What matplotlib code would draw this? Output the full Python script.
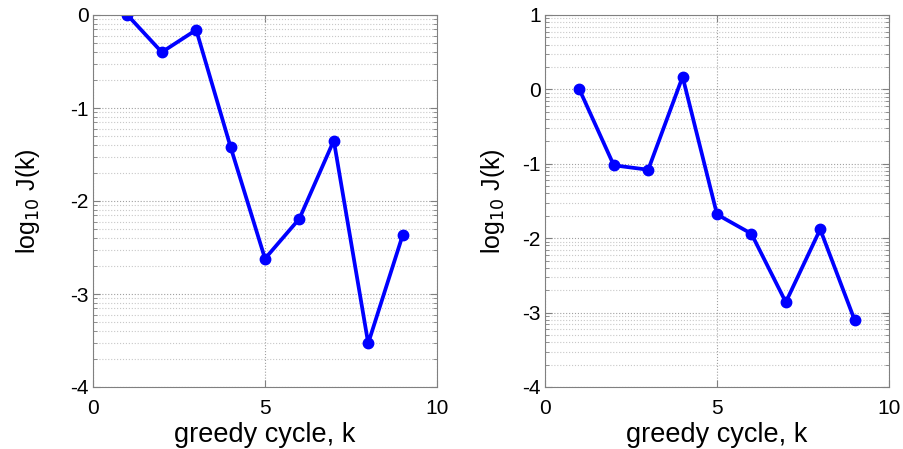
import numpy as np
import matplotlib
matplotlib.use('Agg')
from matplotlib import pyplot as plt
from matplotlib.ticker import FixedLocator, FuncFormatter, LogLocator, NullFormatter

plt.rcParams['font.family'] = ['Liberation Sans', 'DejaVu Sans']

k = [1, 2, 3, 4, 5, 6, 7, 8, 9]
logJ_left = [0.0, -0.40, -0.16, -1.42, -2.62, -2.19, -1.35, -3.53, -2.37]
logJ_right = [0.0, -1.02, -1.08, 0.17, -1.68, -1.94, -2.86, -1.88, -3.10]

x_ticks = [0, 5, 10]
ylim_left = (-4, 0)
ylim_right = (-4, 1)

fig = plt.figure(figsize=(9.04, 4.49), dpi=100)
ax1 = fig.add_axes([93/904, 62/449, 344/904, 372/449])
ax2 = fig.add_axes([545/904, 62/449, 344/904, 372/449])

spine_col = '#808080'


def draw(ax, vals, ylim, ylab_x):
    J = [10.0 ** v for v in vals]
    ax.plot(k, J, color='#0000ff', linewidth=2.7, marker='o', markersize=7.5)
    ax.set_yscale('log')
    ax.set_xlim(0, 10)
    ax.set_ylim(10.0 ** ylim[0], 10.0 ** ylim[1])
    ax.xaxis.set_major_locator(FixedLocator(x_ticks))
    ax.yaxis.set_major_locator(FixedLocator([10.0 ** e for e in range(ylim[0], ylim[1] + 1)]))
    ax.yaxis.set_minor_locator(LogLocator(base=10, subs=np.arange(2, 10), numticks=20))
    ax.yaxis.set_minor_formatter(NullFormatter())
    ax.yaxis.set_major_formatter(FuncFormatter(lambda v, p: '%d' % int(round(np.log10(v)))))
    ax.grid(True, which='major', linestyle=':', color='#a0a0a0', linewidth=0.8)
    ax.grid(True, which='minor', axis='y', linestyle=':', color='#c8c8c8', linewidth=0.8)
    ax.tick_params(which='both', direction='in', top=True, right=True, color=spine_col,
                   labelsize=15)
    ax.tick_params(axis='x', pad=9)
    ax.tick_params(axis='y', pad=3)
    ax.tick_params(which='major', length=5)
    ax.tick_params(which='minor', length=3)
    for s in ax.spines.values():
        s.set_color(spine_col)
    ax.set_xlabel('greedy cycle, k', fontsize=19.5)
    ax.set_ylabel(r'log$_{10}$ J(k)', fontsize=18, va='center')
    ax.xaxis.set_label_coords(0.5, -0.093)
    ax.yaxis.set_label_coords(ylab_x, 0.5)


draw(ax1, logJ_left, ylim_left, -0.189)
draw(ax2, logJ_right, ylim_right, -0.151)

fig.savefig('out.png', dpi=100)
